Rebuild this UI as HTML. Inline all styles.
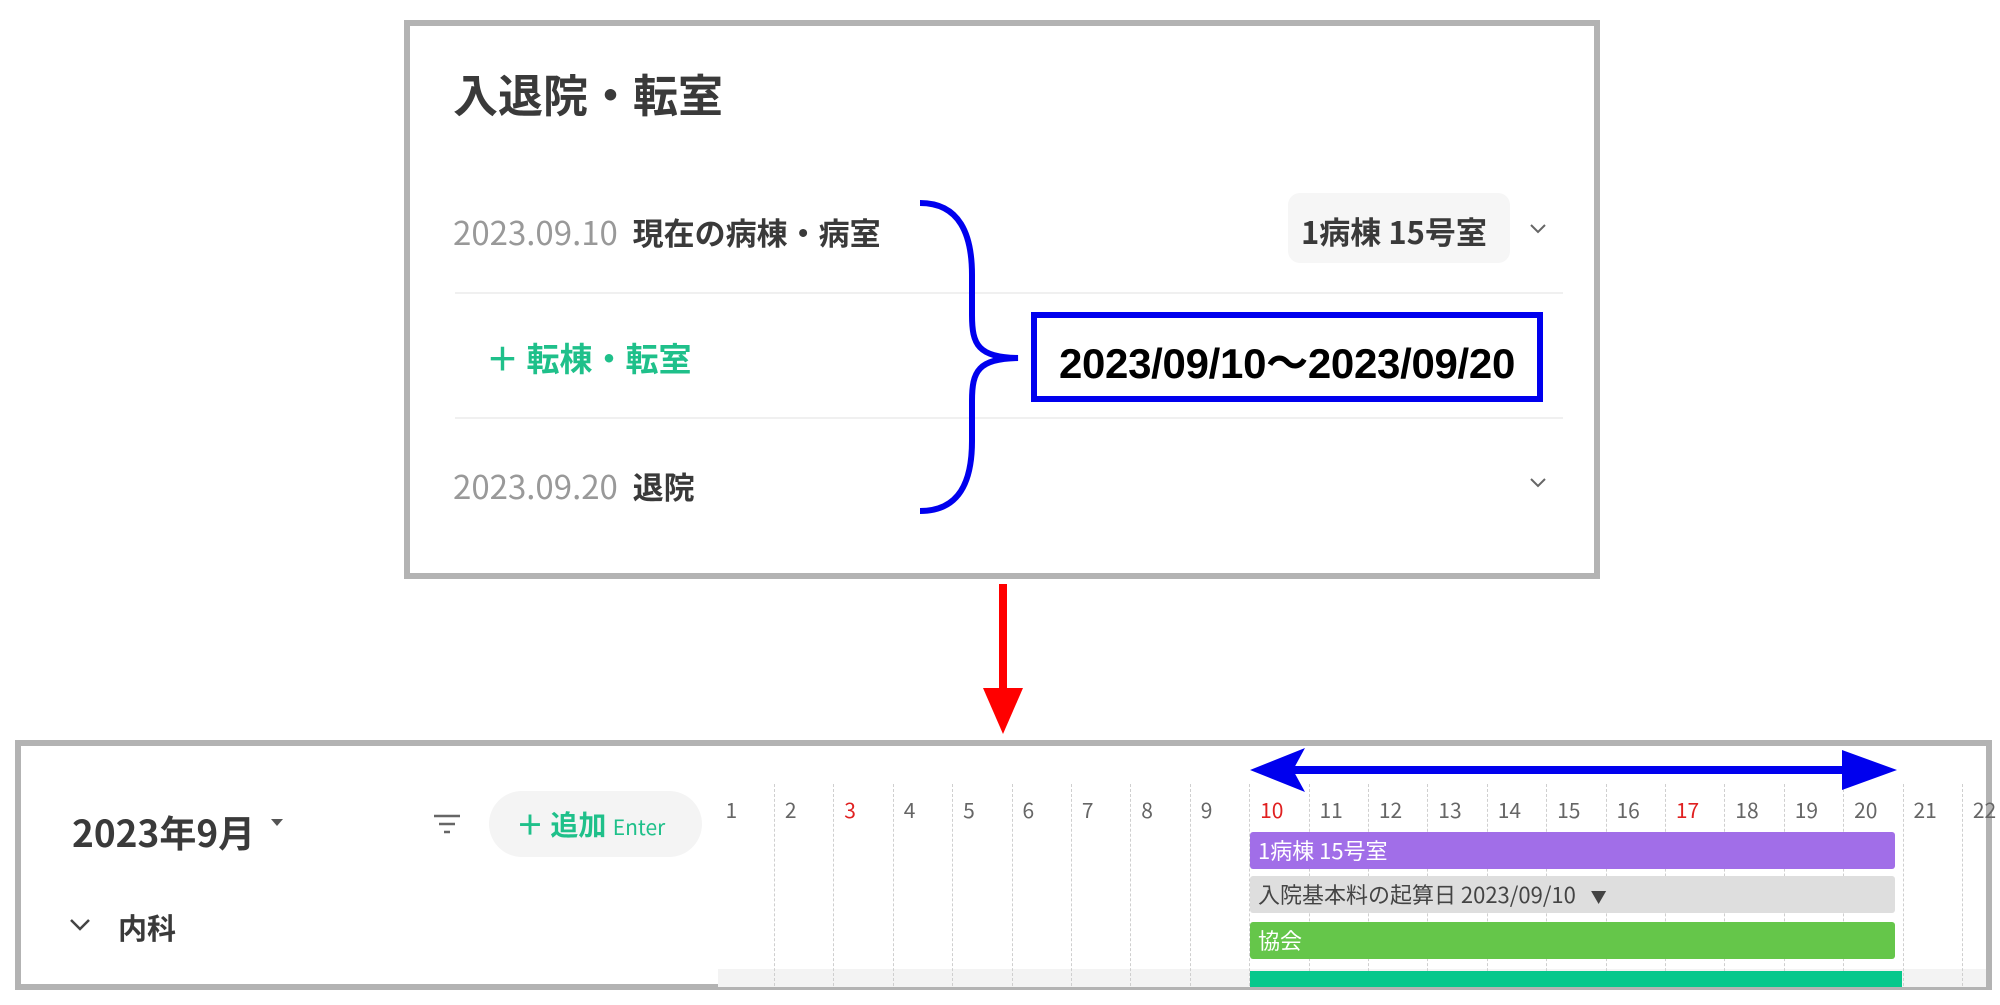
<!DOCTYPE html>
<html><head><meta charset="utf-8"><style>
*{margin:0;padding:0;box-sizing:border-box}
body{width:2000px;height:1005px;background:#fff;position:relative;overflow:hidden;font-family:"Liberation Sans","Noto Sans CJK JP",sans-serif}
.a{position:absolute;white-space:nowrap}
.box{position:absolute;border:6px solid #b3b3b3;background:#fff}
.sep{position:absolute;height:2px;background:#f0f0f0}
.dl{position:absolute;top:784px;height:202px;border-left:1px dashed #cfcfcf}
.day{position:absolute;top:795px;font-size:21px;color:#666;font-family:"Noto Sans CJK JP",sans-serif}
.bar{position:absolute;left:1250px;width:645px;height:37px;border-radius:3px;font-size:22px;color:#fff;padding-left:8px;line-height:37px;font-family:"Noto Sans CJK JP",sans-serif}
</style></head><body>
<div class="box" style="left:404px;top:20px;width:1196px;height:559px"></div>
<div class="a" style="left:453px;top:60px;font-size:45px;font-weight:bold;color:#3a3a3a;font-family:'Noto Sans CJK JP',sans-serif">入退院・転室</div>
<div class="a" style="left:453px;top:207px;font-size:33px;color:#999;font-family:'Noto Sans CJK JP',sans-serif">2023.09.10&nbsp; <span style="color:#3a3a3a;font-weight:bold;font-size:31px">現在の病棟・病室</span></div>
<div class="a" style="left:1288px;top:193px;width:222px;height:70px;background:#f6f6f6;border-radius:12px"></div>
<div class="a" style="left:1301px;top:208px;font-size:31px;font-weight:bold;color:#3a3a3a;font-family:'Noto Sans CJK JP',sans-serif">1病棟 15号室</div>
<svg class="a" style="left:1528px;top:222px" width="20" height="14"><path d="M3 3l7 7 7-7" fill="none" stroke="#666" stroke-width="2"/></svg>
<div class="sep" style="left:455px;top:292px;width:1108px"></div>
<div class="a" style="left:486px;top:333px;font-size:33px;font-weight:bold;color:#1fc08a;font-family:'Noto Sans CJK JP',sans-serif">＋ 転棟・転室</div>
<div class="sep" style="left:455px;top:417px;width:1108px"></div>
<div class="a" style="left:453px;top:461px;font-size:33px;color:#999;font-family:'Noto Sans CJK JP',sans-serif">2023.09.20&nbsp; <span style="color:#3a3a3a;font-weight:bold;font-size:31px">退院</span></div>
<svg class="a" style="left:1528px;top:476px" width="20" height="14"><path d="M3 3l7 7 7-7" fill="none" stroke="#666" stroke-width="2"/></svg>
<svg class="a" style="left:900px;top:195px" width="130" height="325"><path d="M20 8 C60 8 72 40 72 80 L72 120 C72 150 78 162 118 163 C78 164 72 176 72 206 L72 246 C72 286 60 316 20 316" fill="none" stroke="#0000ee" stroke-width="6"/></svg>
<div class="a" style="left:1031px;top:312px;width:512px;height:90px;border:6px solid #0000ee;background:#fff"></div>
<div class="a" style="left:1031px;top:330px;width:512px;text-align:center;font-size:42px;font-weight:bold;color:#000;letter-spacing:-0.3px">2023/09/10～2023/09/20</div>
<svg class="a" style="left:980px;top:584px" width="46" height="152"><rect x="19" y="0" width="8" height="110" fill="#f00"/><path d="M3 104 L43 104 L23 150Z" fill="#f00"/></svg>
<div class="box" style="left:15px;top:740px;width:1977px;height:250px"></div>
<div class="a" style="left:72px;top:804px;font-size:37px;font-weight:bold;color:#3a3a3a;font-family:'Noto Sans CJK JP',sans-serif">2023年9月</div>
<svg class="a" style="left:270px;top:818px" width="14" height="10"><path d="M1 1h12L7 8z" fill="#555"/></svg>
<svg class="a" style="left:432px;top:812px" width="30" height="24"><path d="M2 4h26M7 12h16M12 20h6" stroke="#666" stroke-width="2.5"/></svg>
<div class="a" style="left:489px;top:791px;width:213px;height:66px;background:#f4f4f4;border-radius:33px"></div>
<div class="a" style="left:516px;top:804px;font-size:28px;font-weight:bold;color:#1fc08a;font-family:'Noto Sans CJK JP',sans-serif">＋ 追加 <span style="font-size:21px;font-weight:normal">Enter</span></div>
<svg class="a" style="left:68px;top:916px" width="24" height="18"><path d="M3 4l9 9 9-9" fill="none" stroke="#444" stroke-width="2.5"/></svg>
<div class="a" style="left:118px;top:906px;font-size:29px;font-weight:bold;color:#3a3a3a;font-family:'Noto Sans CJK JP',sans-serif">内科</div>
<div class="a" style="left:718px;top:969px;width:1268px;height:18px;background:#f3f3f3"></div>
<div id="grid"></div>
<div class="bar" style="top:832px;background:#a16ee8">1病棟 15号室</div>
<div class="bar" style="top:876px;background:#dedede;color:#444">入院基本料の起算日 2023/09/10 &nbsp;&nbsp;<span style="font-size:16px">▼</span></div>
<div class="bar" style="top:922px;background:#65c64a">協会</div>
<div class="a" style="left:1250px;top:971px;width:652px;height:16px;background:#06c88c"></div>
<svg class="a" style="left:1245px;top:745px" width="660" height="50"><rect x="40" y="21" width="580" height="8" fill="#0000ee"/><path d="M5 25 L60 3 L48 25 L60 47Z" fill="#0000ee"/><path d="M652 25 L597 5 L597 45Z" fill="#0000ee"/></svg>
<script>
var g=document.getElementById('grid'),h='';
for(var i=1;i<=22;i++){var x=714.5+(i-1)*59.4;
if(i>1)h+='<div class="dl" style="left:'+x.toFixed(1)+'px"></div>';
var c=(i==3||i==10||i==17)?'#e02020':'#666';
h+='<div class="day" style="left:'+(x+11).toFixed(1)+'px;color:'+c+'">'+i+'</div>';}
g.innerHTML=h;
</script>
</body></html>
